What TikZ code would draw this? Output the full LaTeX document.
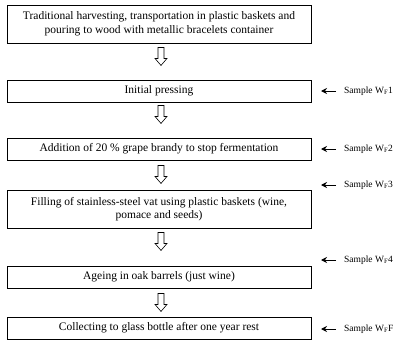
\documentclass[tikz,border=0pt]{standalone}
\usepackage{fontspec}
\setmainfont{Liberation Serif}
\usetikzlibrary{arrows.meta}
\begin{document}
\begin{tikzpicture}[x=1pt,y=-1pt,
 box/.style={draw, line width=0.9pt, minimum width=304pt, inner sep=2pt, align=center, font=\fontsize{11.5}{13.5}\selectfont},
 sample/.style={anchor=west, inner sep=0pt, font=\fontsize{9.5}{11}\selectfont},
 samplearrow/.style={-{Stealth[length=6pt,width=6pt]}, line width=1pt},
 hollow/.pic={\draw[line width=0.6pt, fill=white] (-3,0) -- (-3,11) -- (-6,11) -- (0,18) -- (6,11) -- (3,11) -- (3,0) -- cycle;}
]
\useasboundingbox (0,0) rectangle (400,343);
\node[box, minimum height=38pt] (b1) at (159,24) {Traditional harvesting, transportation in plastic baskets and\\pouring to wood with metallic bracelets container};
\node[box, minimum height=22pt] (b2) at (159,91) {Initial pressing};
\node[box, minimum height=22pt] (b3) at (159,149) {Addition of 20 \% grape brandy to stop fermentation};
\node[box, minimum height=38pt] (b4) at (159,209) {Filling of stainless-steel vat using plastic baskets (wine,\\pomace and seeds)};
\node[box, minimum height=22pt] (b5) at (159,277) {Ageing in oak barrels (just wine)};
\node[box, minimum height=22pt] (b6) at (159,328) {Collecting to glass bottle after one year rest};

\pic at ([xshift=2pt,yshift=-4pt]b1.south) {hollow};
\pic at ([xshift=2pt,yshift=-3pt]b2.south) {hollow};
\pic at ([xshift=2pt,yshift=-5pt]b3.south) {hollow};
\pic at ([xshift=2pt,yshift=-4pt]b4.south) {hollow};
\pic at ([xshift=2pt,yshift=-5pt]b5.south) {hollow};

\node[sample] (s1) at (344,91) {Sample W\textsubscript{F}1};
\node[sample] (s2) at (344,149) {Sample W\textsubscript{F}2};
\node[sample] (s3) at (344,185) {Sample W\textsubscript{F}3};
\node[sample] (s4) at (344,260) {Sample W\textsubscript{F}4};
\node[sample] (s5) at (344,329) {Sample W\textsubscript{F}F};

\foreach \s in {s1,s2,s3,s4,s5}
  \draw[samplearrow] ([xshift=-8pt]\s.west) -- ([xshift=-23pt]\s.west);
\end{tikzpicture}
\end{document}
